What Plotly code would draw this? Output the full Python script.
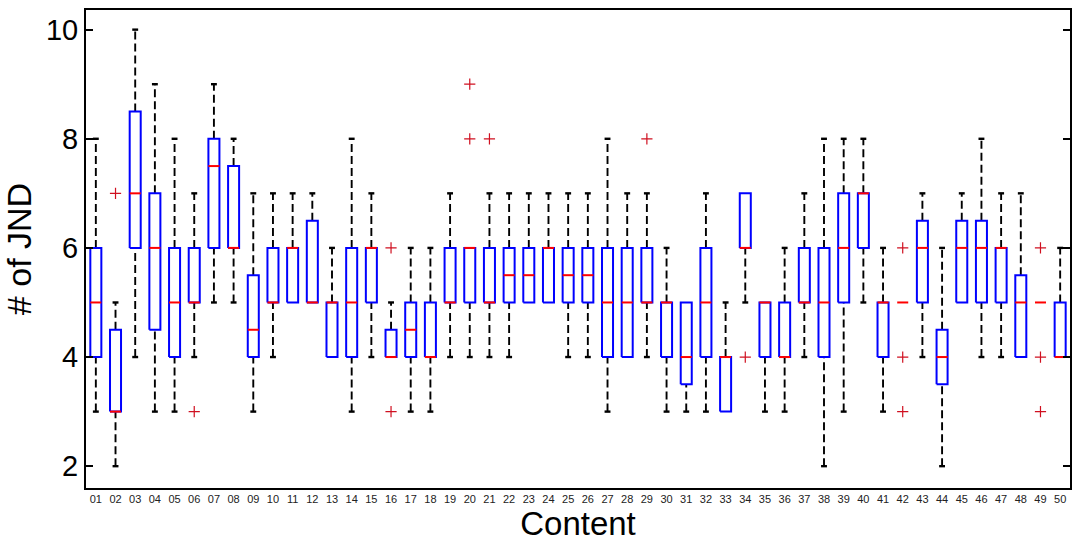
import plotly.graph_objects as go

# Content indices and tick labels
content = list(range(1, 51))
tick_labels = ["01", "02", "03", "04", "05", "06", "07", "08", "09", "10",
               "11", "12", "13", "14", "15", "16", "17", "18", "19", "20",
               "21", "22", "23", "24", "25", "26", "27", "28", "29", "30",
               "31", "32", "33", "34", "35", "36", "37", "38", "39", "40",
               "41", "42", "43", "44", "45", "46", "47", "48", "49", "50"]

# Box-plot statistics per content (# of JND)
lower_whisker = [3, 2, 4, 3, 3, 4, 5, 5, 3, 4,
                 5, 5, 4, 3, 4, 4, 3, 3, 4, 4,
                 4, 4, 5, 5, 4, 4, 3, 4, 4, 3,
                 3, 3, 3, 5, 3, 3, 4, 2, 3, 5,
                 3, 5, 4, 2, 5, 4, 4, 4, 5, 4]
q1 = [4, 3, 6, 4.5, 4, 5, 6, 6, 4, 5,
      5, 5, 4, 4, 5, 4, 4, 4, 5, 5,
      5, 5, 5, 5, 5, 5, 4, 4, 5, 4,
      3.5, 4, 3, 6, 4, 4, 5, 4, 5, 6,
      4, 5, 5, 3.5, 5, 5, 5, 4, 5, 4]
median = [5, 3, 7, 6, 5, 5, 7.5, 6, 4.5, 5,
          6, 5, 5, 5, 6, 4, 4.5, 4, 5, 6,
          5, 5.5, 5.5, 6, 5.5, 5.5, 5, 5, 5, 5,
          4, 5, 4, 6, 5, 4, 5, 5, 6, 7,
          5, 5, 6, 4, 6, 6, 6, 5, 5, 4]
q3 = [6, 4.5, 8.5, 7, 6, 6, 8, 7.5, 5.5, 6,
      6, 6.5, 5, 6, 6, 4.5, 5, 5, 6, 6,
      6, 6, 6, 6, 6, 6, 6, 6, 6, 5,
      5, 6, 4, 7, 5, 5, 6, 6, 7, 7,
      5, 5, 6.5, 4.5, 6.5, 6.5, 6, 5.5, 5, 5]
upper_whisker = [8, 5, 10, 9, 8, 7, 9, 8, 7, 7,
                 7, 7, 6, 8, 7, 5, 6, 6, 7, 6,
                 7, 7, 7, 7, 7, 7, 8, 7, 7, 6,
                 5, 7, 5, 7, 5, 6, 7, 8, 8, 8,
                 6, 5, 7, 6, 7, 8, 7, 7, 5, 6]

# Outliers
outlier_content = [2, 6, 16, 16, 20, 20, 21, 29, 34, 42, 42, 42, 49, 49, 49]
outlier_value = [7, 3, 6, 3, 9, 8, 8, 8, 4, 6, 4, 3, 6, 4, 3]

BOX_HW = 0.28   # half width of box
CAP_HW = 0.15   # half width of whisker caps

wx, wy, cx, cy, bx, by, mx, my = [], [], [], [], [], [], [], []
for i, c in enumerate(content):
    lo, a, m, b, hi = lower_whisker[i], q1[i], median[i], q3[i], upper_whisker[i]
    # whiskers
    if hi > b:
        wx += [c, c, None]; wy += [b, hi, None]
        cx += [c - CAP_HW, c + CAP_HW, None]; cy += [hi, hi, None]
    if lo < a:
        wx += [c, c, None]; wy += [lo, a, None]
        cx += [c - CAP_HW, c + CAP_HW, None]; cy += [lo, lo, None]
    # box
    if b > a:
        bx += [c - BOX_HW, c + BOX_HW, c + BOX_HW, c - BOX_HW, c - BOX_HW, None]
        by += [a, a, b, b, a, None]
    # median
    mx += [c - BOX_HW, c + BOX_HW, None]; my += [m, m, None]

fig = go.Figure()
fig.add_trace(go.Scatter(x=wx, y=wy, mode="lines", hoverinfo="skip",
                         line=dict(color="black", width=1.9, dash="8px,4px")))
fig.add_trace(go.Scatter(x=cx, y=cy, mode="lines", hoverinfo="skip",
                         line=dict(color="black", width=2.4)))
fig.add_trace(go.Scatter(x=bx, y=by, mode="lines", hoverinfo="skip",
                         line=dict(color="#0000ff", width=2)))
fig.add_trace(go.Scatter(x=mx, y=my, mode="lines", hoverinfo="skip",
                         line=dict(color="#ff0000", width=2)))
fig.add_trace(go.Scatter(x=outlier_content, y=outlier_value, mode="markers",
                         marker=dict(symbol="cross-thin", size=8,
                                     line=dict(color="#d01020", width=1.2))))

font_family = "Liberation Sans, Arial, sans-serif"
fig.update_layout(
    width=1076, height=542,
    margin=dict(l=86, r=4, t=10, b=54),
    plot_bgcolor="white", paper_bgcolor="white",
    showlegend=False,
    font=dict(family=font_family, color="black"),
    xaxis=dict(
        range=[0.5, 50.5], tickmode="array", tickvals=content, ticktext=tick_labels,
        tickfont=dict(size=11, color="#222"), ticks="", showgrid=False, zeroline=False,
        showline=True, linecolor="black", linewidth=2, mirror=True,
        title=dict(text="Content", font=dict(size=33), standoff=0),
    ),
    yaxis=dict(
        range=[1.6, 10.36], tickmode="array", tickvals=[2, 4, 6, 8, 10],
        tickfont=dict(size=29), ticks="inside", ticklen=7, tickwidth=1.5,
        tickcolor="black", showgrid=False, zeroline=False,
        showline=True, linecolor="black", linewidth=2, mirror="ticks",
        title=dict(text="# of JND", font=dict(size=34), standoff=6),
    ),
)

fig.write_html("out.html")
